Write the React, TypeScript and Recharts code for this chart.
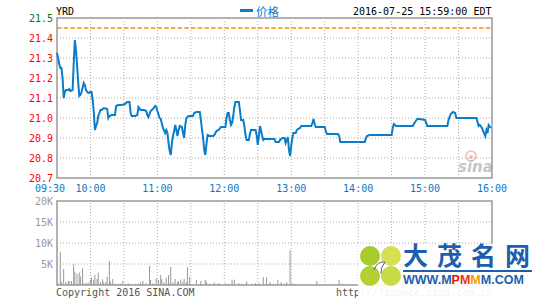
import React from "react";
import { ComposedChart, Line, Bar, XAxis, YAxis, ReferenceLine, ReferenceArea } from "recharts";

const MONO = "'DejaVu Sans Mono', 'Liberation Mono', monospace";

// axes
const TIME_TICKS = ["09:30", "10:00", "11:00", "12:00", "13:00", "14:00", "15:00", "16:00"];
const GRID_TIMES = ["10:00", "10:30", "11:00", "11:30", "12:00", "12:30", "13:00", "13:30", "14:00", "14:30", "15:00", "15:30"];
const PRICE_TICKS = [20.7, 20.8, 20.9, 21.0, 21.1, 21.2, 21.3, 21.4, 21.5];
const PCT_LABELS = ["-3.50%", "-3.03%", "-2.56%", "-2.10%", "-1.63%", "-1.17%", "-0.70%", "-0.23%", "+0.23%"];
const PREV_CLOSE = 21.45;
const VOL_TICKS = [5000, 10000, 15000, 20000];
const VOL_LABELS = ["5K", "10K", "15K", "20K"];

// price series
const PRICE_TIMES = [
  "09:30", "09:31", "09:32", "09:33", "09:34", "09:35", "09:36", "09:37", "09:38", "09:40",
  "09:41", "09:42", "09:44", "09:45", "09:46", "09:47", "09:48", "09:49", "09:50", "09:51",
  "09:52", "09:54", "09:55", "09:56", "09:58", "10:00", "10:01", "10:02", "10:03", "10:04",
  "10:05", "10:06", "10:07", "10:09", "10:10", "10:12", "10:15", "10:16", "10:17", "10:19",
  "10:22", "10:23", "10:25", "10:28", "10:31", "10:33", "10:35", "10:36", "10:37", "10:40",
  "10:42", "10:43", "10:45", "10:48", "10:50", "10:51", "10:52", "10:54", "10:56", "10:58",
  "10:59", "11:00", "11:02", "11:03", "11:05", "11:07", "11:08", "11:09", "11:10", "11:11",
  "11:12", "11:13", "11:14", "11:15", "11:16", "11:17", "11:18", "11:19", "11:20", "11:22",
  "11:23", "11:24", "11:25", "11:26", "11:28", "11:32", "11:33", "11:35", "11:38", "11:39",
  "11:40", "11:41", "11:42", "11:43", "11:44", "11:45", "11:47", "11:50", "11:51", "11:53",
  "11:55", "11:57", "12:01", "12:02", "12:03", "12:04", "12:05", "12:06", "12:07", "12:08",
  "12:09", "12:10", "12:13", "12:14", "12:15", "12:17", "12:18", "12:19", "12:20", "12:22",
  "12:23", "12:24", "12:28", "12:29", "12:30", "12:31", "12:32", "12:33", "12:34", "12:35",
  "12:36", "12:45", "12:46", "12:49", "12:50", "12:52", "12:54", "12:55", "12:56", "12:57",
  "12:58", "12:59", "13:00", "13:01", "13:02", "13:04", "13:05", "13:06", "13:08", "13:09",
  "13:18", "13:19", "13:20", "13:21", "13:22", "13:30", "13:31", "13:32", "13:42", "13:43",
  "13:44", "14:06", "14:07", "14:08", "14:10", "14:30", "14:31", "14:32", "14:34", "14:49",
  "14:51", "14:53", "14:55", "15:00", "15:02", "15:20", "15:21", "15:23", "15:25", "15:27",
  "15:28", "15:46", "15:47", "15:48", "15:49", "15:51", "15:52", "15:54", "15:55", "15:56",
  "15:57", "15:59",
];
const PRICES = [
  21.325, 21.3, 21.27, 21.25, 21.25, 21.2, 21.1, 21.13, 21.14, 21.14,
  21.145, 21.135, 21.14, 21.275, 21.39, 21.34, 21.265, 21.18, 21.11, 21.115,
  21.13, 21.175, 21.165, 21.14, 21.125, 21.13, 21.13, 21.09, 21.03, 20.94,
  20.96, 20.975, 21.01, 21.04, 21.04, 21.05, 21.045, 21.0, 21.01, 21.015,
  21.015, 21.06, 21.065, 21.065, 21.07, 21.08, 21.08, 21.025, 21.01, 21.01,
  21.015, 21.055, 21.04, 21.04, 21.035, 21.015, 21.005, 21.035, 21.045, 21.06,
  21.055, 21.035, 21.0, 20.995, 20.95, 20.925, 20.94, 20.925, 20.875, 20.835,
  20.815, 20.875, 20.91, 20.935, 20.965, 20.94, 20.91, 20.94, 20.96, 20.955,
  20.925, 20.9, 20.965, 21.0, 21.01, 21.01, 21.025, 21.03, 21.03, 20.99,
  20.94, 20.9, 20.84, 20.815, 20.87, 20.915, 20.91, 20.91, 20.915, 20.935,
  20.94, 20.955, 20.955, 21.0, 21.025, 21.025, 20.99, 20.965, 20.975, 21.01,
  21.055, 21.08, 21.08, 21.04, 20.99, 20.99, 20.96, 20.915, 20.89, 20.89,
  20.92, 20.94, 20.94, 20.915, 20.865, 20.91, 20.96, 20.935, 20.91, 20.89,
  20.895, 20.895, 20.88, 20.88, 20.89, 20.9, 20.9, 20.875, 20.89, 20.905,
  20.84, 20.81, 20.86, 20.9, 20.925, 20.925, 20.94, 20.945, 20.95, 20.96,
  20.96, 20.975, 20.995, 20.97, 20.955, 20.955, 20.935, 20.92, 20.92, 20.91,
  20.88, 20.88, 20.9, 20.91, 20.915, 20.915, 20.95, 20.97, 20.96, 20.96,
  20.98, 20.995, 20.995, 20.99, 20.96, 20.96, 20.99, 21.02, 21.03, 21.025,
  21.0, 21.0, 20.98, 20.96, 20.965, 20.95, 20.935, 20.91, 20.94, 20.925,
  20.965, 20.95,
];

// volume series
const VOL_TIMES = [
  "09:31", "09:33", "09:34", "09:36", "09:38", "09:40", "09:41", "09:43", "09:45", "09:46",
  "09:48", "09:50", "09:51", "09:53", "09:54", "09:56", "09:58", "10:00", "10:01", "10:03",
  "10:04", "10:06", "10:07", "10:09", "10:11", "10:12", "10:14", "10:15", "10:17", "10:18",
  "10:20", "10:22", "10:25", "10:27", "10:29", "10:31", "10:34", "10:37", "10:40", "10:43",
  "10:45", "10:47", "10:50", "10:53", "10:54", "10:56", "10:59", "11:01", "11:03", "11:04",
  "11:06", "11:08", "11:10", "11:11", "11:12", "11:14", "11:16", "11:18", "11:19", "11:21",
  "11:23", "11:24", "11:26", "11:27", "11:29", "11:30", "11:35", "11:39", "11:43", "11:44",
  "11:47", "11:51", "11:55", "12:01", "12:04", "12:07", "12:09", "12:13", "12:16", "12:20",
  "12:25", "12:28", "12:31", "12:35", "12:38", "12:41", "12:44", "12:48", "12:51", "12:54",
  "12:56", "12:59", "13:01", "13:03", "13:08", "13:15", "13:23", "13:27", "13:38", "13:43",
  "13:46", "13:51",
];
const VOLUMES = [
  400, 7900, 800, 3800, 640, 950, 950, 950, 4900, 3170,
  2700, 3000, 2000, 4000, 400, 480, 640, 1190, 1750, 1190,
  2380, 1430, 3000, 640, 1350, 640, 640, 1980, 5700, 790,
  1430, 320, 160, 320, 950, 320, 400, 160, 320, 320,
  640, 950, 400, 4600, 1190, 400, 1590, 1190, 2380, 1430,
  640, 1750, 2380, 320, 4300, 640, 1430, 640, 950, 1270,
  640, 1430, 640, 4300, 1900, 320, 1270, 950, 1190, 790,
  320, 640, 480, 400, 320, 1270, 1270, 480, 320, 790,
  320, 400, 400, 1900, 1900, 640, 320, 1270, 640, 320,
  640, 8300, 480, 320, 240, 240, 950, 160, 240, 1190,
  320, 240,
];

const toMin = (s: string) => {
  const [h, m] = s.split(":").map(Number);
  return h * 60 + m - 570;
};

const priceData = PRICE_TIMES.map((t, i) => ({ t: toMin(t), price: PRICES[i] }));
const volData = VOL_TIMES.map((t, i) => ({ t: toMin(t), vol: VOLUMES[i] }));
const TIME_MINS = TIME_TICKS.map(toMin);

const GRID = { stroke: "#aaa", strokeDasharray: "1 2" };

const TimeTick = ({ x, y, payload }: any) => {
  const first = payload.value === 0;
  return (
    <text x={first ? x + 8 : x} y={y + 14} textAnchor={first ? "end" : "middle"} fill="#0a78c8" fontSize={10} fontFamily={MONO}>
      {TIME_TICKS[TIME_MINS.indexOf(payload.value)]}
    </text>
  );
};

const PriceTick = ({ x, y, payload }: any) => (
  <text x={x - 4} y={y + 3.5} textAnchor="end" fill={payload.value > PREV_CLOSE ? "#008000" : "#ff0000"} fontSize={10} fontFamily={MONO}>
    {payload.value.toFixed(1)}
  </text>
);

const PctTick = ({ x, y, payload }: any) => (
  <text x={x + 2} y={y + 3.5} textAnchor="start" fill={payload.value > PREV_CLOSE ? "#008000" : "#ff0000"} fontSize={10} fontFamily={MONO}>
    {PCT_LABELS[PRICE_TICKS.indexOf(payload.value)]}
  </text>
);

const VolTick = ({ x, y, payload }: any) => (
  <text x={x - 4} y={y + 3.5} textAnchor="end" fill="#999" fontSize={10} fontFamily={MONO}>
    {VOL_LABELS[VOL_TICKS.indexOf(payload.value)]}
  </text>
);

function PriceChart() {
  return (
    <ComposedChart width={545} height={200} data={priceData} margin={{ top: 18, right: 0, bottom: 0, left: 0 }}>
      <XAxis dataKey="t" type="number" domain={[0, 390]} ticks={TIME_MINS} interval={0} height={22}
        axisLine={false} tickLine={false} tickSize={0} tickMargin={0} tick={<TimeTick />} />
      <YAxis yAxisId="l" domain={[20.7, 21.5]} ticks={PRICE_TICKS} interval={0} width={57}
        axisLine={false} tickLine={false} tickSize={0} tickMargin={0} tick={<PriceTick />} />
      <YAxis yAxisId="r" orientation="right" domain={[20.7, 21.5]} ticks={PRICE_TICKS} interval={0} width={53}
        axisLine={false} tickLine={false} tickSize={0} tickMargin={0} tick={<PctTick />} />
      {PRICE_TICKS.slice(1, -1).map((v) => (
        <ReferenceLine key={"h" + v} yAxisId="l" y={v} {...GRID} />
      ))}
      {GRID_TIMES.map((t) => (
        <ReferenceLine key={"v" + t} yAxisId="l" x={toMin(t)} {...GRID} />
      ))}
      <ReferenceArea yAxisId="l" x1={0} x2={390} y1={20.7} y2={21.5} fill="none" stroke="#999" strokeWidth={1.5} />
      <ReferenceLine yAxisId="l" y={PREV_CLOSE} stroke="#ff8c00" strokeWidth={1.5} strokeDasharray="4.5 2.2" />
      <Line yAxisId="l" type="linear" dataKey="price" stroke="#0b7cca" strokeWidth={2} dot={false} isAnimationActive={false} />
    </ComposedChart>
  );
}

function VolumeChart() {
  return (
    <ComposedChart width={545} height={100} data={volData} margin={{ top: 11, right: 53, bottom: 5, left: 0 }}>
      <XAxis dataKey="t" type="number" domain={[0, 390]} hide />
      <YAxis domain={[0, 20000]} ticks={VOL_TICKS} interval={0} width={57}
        axisLine={false} tickLine={false} tickSize={0} tickMargin={0} tick={<VolTick />} />
      {VOL_TICKS.slice(0, -1).map((v) => (
        <ReferenceLine key={"h" + v} y={v} {...GRID} />
      ))}
      {GRID_TIMES.map((t) => (
        <ReferenceLine key={"v" + t} x={toMin(t)} {...GRID} />
      ))}
      <ReferenceArea x1={0} x2={390} y1={0} y2={20000} fill="none" stroke="#999" strokeWidth={1.5} />
      <Bar dataKey="vol" fill="#999" barSize={1} isAnimationActive={false} />
    </ComposedChart>
  );
}

export default function App() {
  return (
    <div style={{ position: "absolute", left: 0, top: 0, width: 545, height: 300, background: "#fff", overflow: "hidden" }}>
      <div style={{ position: "absolute", left: 0, top: 0 }}>
        <PriceChart />
      </div>
      <div style={{ position: "absolute", left: 0, top: 190 }}>
        <VolumeChart />
      </div>
      <svg width={545} height={300} style={{ position: "absolute", left: 0, top: 0, pointerEvents: "none" }}>
        <text x={56} y={15} fontSize={10} fontFamily={MONO} fill="#000">YRD</text>
        <rect x={240} y={9} width={13} height={3} fill="#0b7cca" />
        <text x={256} y={15.5} fontSize={11.5} fontFamily="'Noto Sans CJK SC', sans-serif" fill="#0b7cca">价格</text>
        <text x={353} y={15} fontSize={10} fontFamily={MONO} fill="#000">2016-07-25 15:59:00 EDT</text>

        <g opacity={0.55}>
          <circle cx={471} cy={156} r={5} fill="none" stroke="#f08080" strokeWidth={1.5} />
          <circle cx={471} cy={157} r={2} fill="#f08080" />
          <text x={458} y={172} fontSize={15} fontWeight="bold" fontStyle="italic" fontFamily="'DejaVu Sans', sans-serif" fill="#999">sina</text>
        </g>

        <text x={56} y={296} fontSize={10} fontFamily={MONO} fill="#555">Copyright 2016 SINA.COM</text>
        <text x={336} y={296} fontSize={10} fontFamily={MONO} fill="#555">http://finance.sina.com.cn</text>

        <rect x={358} y={244} width={187} height={56} fill="#fff" opacity={0.92} />
        <ellipse cx={370} cy={256} rx={10} ry={10} fill="#a8cc2c" />
        <ellipse cx={391} cy={256} rx={10} ry={10} fill="#d6e052" />
        <ellipse cx={370} cy={276} rx={10} ry={10} fill="#b3d130" />
        <ellipse cx={391} cy={276} rx={10} ry={10} fill="#cadb46" />
        <path d="M374 270 Q377 261 385 262 Q380 268 381 274" fill="none" stroke="#56628c" strokeWidth={1} />
        <text x={403} y={265} fontSize={25} letterSpacing={9} fontWeight="bold" fontFamily="'Noto Sans CJK SC', sans-serif" fill="#1d5fae">大茂名网</text>
        <rect x={403} y={270} width={129} height={2} fill="#1d5fae" />
        <text x={403} y={284} fontSize={12.5} fontWeight="bold" fontFamily="'Liberation Sans', Arial, sans-serif" fill="#1d5fae">
          WWW.M<tspan fill="#e8100c">P</tspan><tspan fill="#f03010">M</tspan><tspan fill="#f0a000">M</tspan>M.COM
        </text>
      </svg>
    </div>
  );
}
